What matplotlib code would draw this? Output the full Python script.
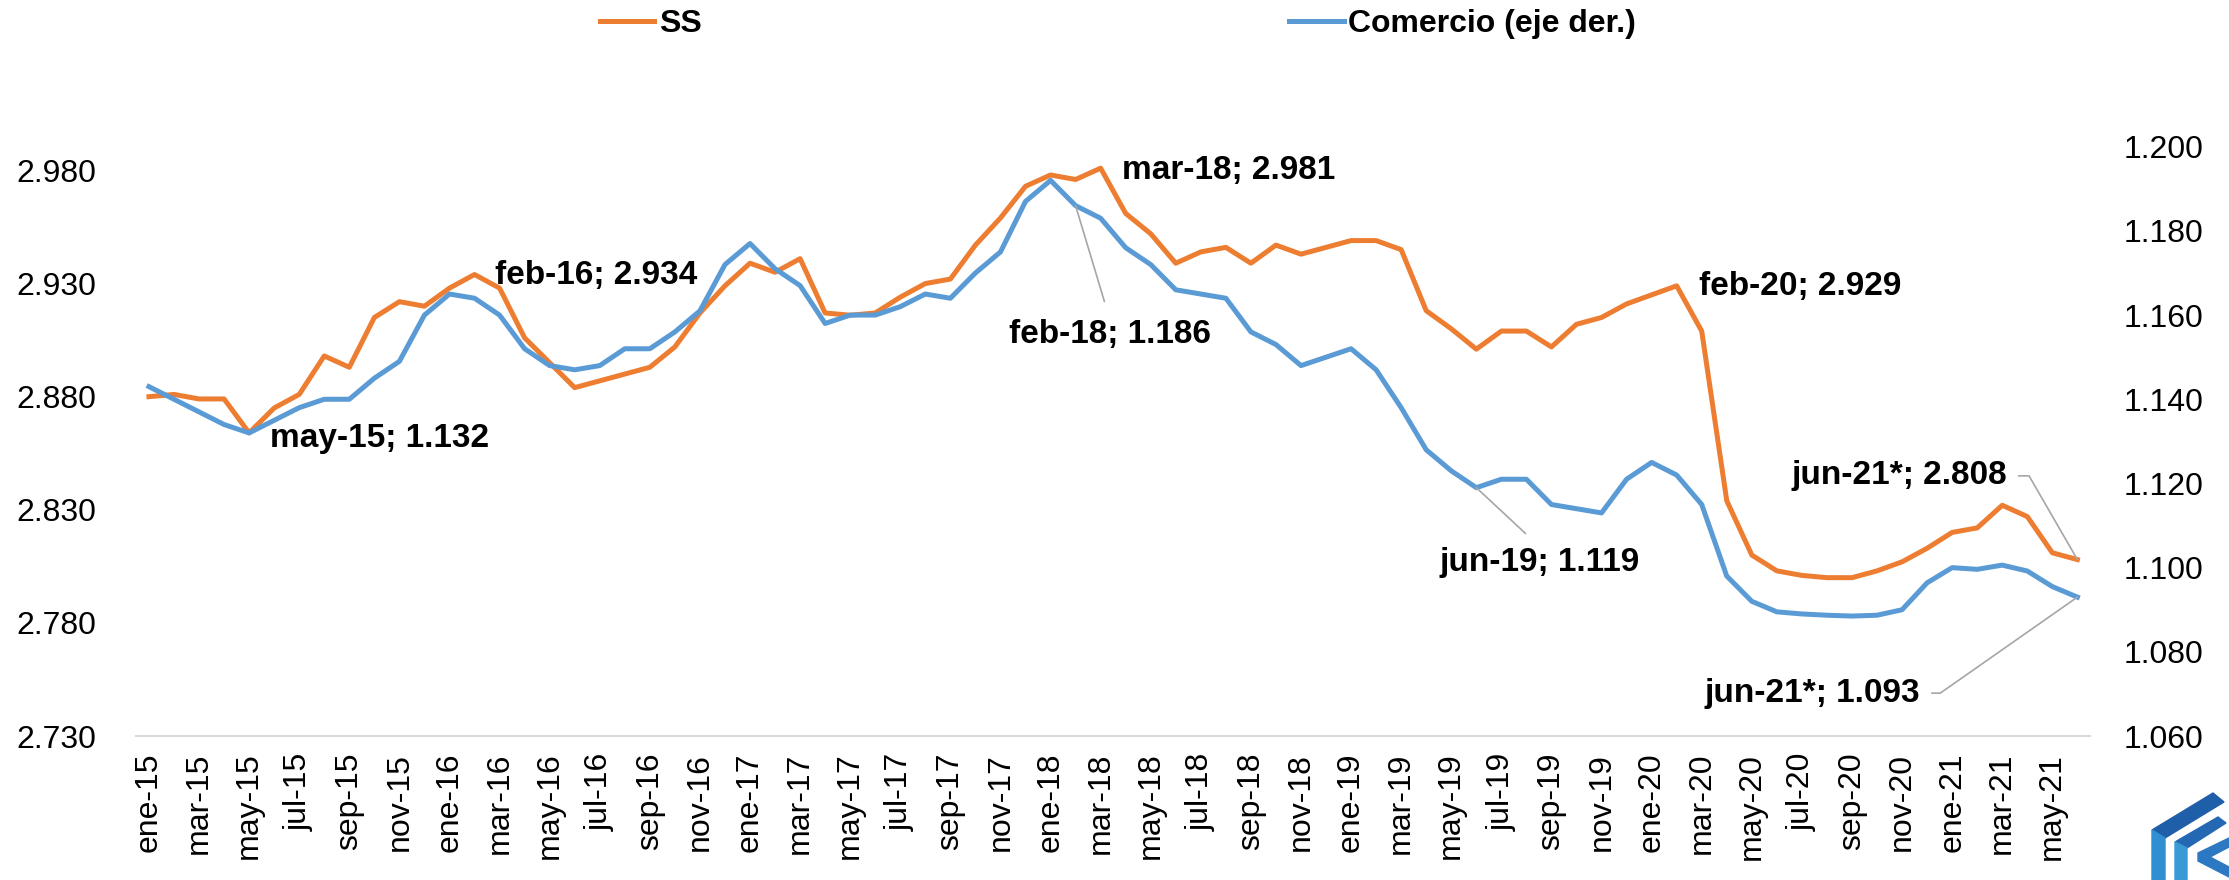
import matplotlib
matplotlib.use("Agg")
import matplotlib.pyplot as plt
from matplotlib.patches import Polygon

plt.rcParams['font.family'] = ['Liberation Sans', 'DejaVu Sans']

# datos mensuales ene-15 .. jun-21
meses = ['ene', 'feb', 'mar', 'abr', 'may', 'jun', 'jul', 'ago', 'sep', 'oct', 'nov', 'dic']
anios = ['15', '16', '17', '18', '19', '20', '21']
fechas = [m + '-' + a for a in anios for m in meses][:78]

ss = [2.880, 2.881, 2.879, 2.879, 2.864, 2.875, 2.881, 2.898, 2.893, 2.915,
      2.922, 2.920, 2.928, 2.934, 2.928, 2.906, 2.895, 2.884, 2.887, 2.890,
      2.893, 2.902, 2.917, 2.929, 2.939, 2.935, 2.941, 2.917, 2.916, 2.917,
      2.924, 2.930, 2.932, 2.947, 2.959, 2.973, 2.978, 2.976, 2.981, 2.961,
      2.952, 2.939, 2.944, 2.946, 2.939, 2.947, 2.943, 2.946, 2.949, 2.949,
      2.945, 2.918, 2.910, 2.901, 2.909, 2.909, 2.902, 2.912, 2.915, 2.921,
      2.925, 2.929, 2.909, 2.834, 2.810, 2.803, 2.801, 2.800, 2.800, 2.803,
      2.807, 2.813, 2.820, 2.822, 2.832, 2.827, 2.811, 2.808]

comercio = [1.143, 1.140, 1.137, 1.134, 1.132, 1.135, 1.138, 1.140, 1.140, 1.145,
            1.149, 1.160, 1.165, 1.164, 1.160, 1.152, 1.148, 1.147, 1.148, 1.152,
            1.152, 1.156, 1.161, 1.172, 1.177, 1.171, 1.167, 1.158, 1.160, 1.160,
            1.162, 1.165, 1.164, 1.170, 1.175, 1.187, 1.192, 1.186, 1.183, 1.176,
            1.172, 1.166, 1.165, 1.164, 1.156, 1.153, 1.148, 1.150, 1.152, 1.147,
            1.138, 1.128, 1.123, 1.119, 1.121, 1.121, 1.115, 1.114, 1.113, 1.121,
            1.125, 1.122, 1.115, 1.098, 1.092, 1.0895, 1.089, 1.0887, 1.0885, 1.0887,
            1.090, 1.0964, 1.100, 1.0996, 1.1006, 1.0992, 1.0955, 1.093]

ticks_izq = [2.730, 2.780, 2.830, 2.880, 2.930, 2.980]
ticks_der = [1.060, 1.080, 1.100, 1.120, 1.140, 1.160, 1.180, 1.200]

naranja = '#ED7D31'
azul = '#5B9BD5'
gris = '#a6a6a6'

x = list(range(len(fechas)))

fig = plt.figure(figsize=(22.29, 8.80), dpi=100)
ax = fig.add_axes([0.0612, 0.1636, 0.8764, 0.6697])
ax2 = ax.twinx()

l1, = ax.plot(x, ss, color=naranja, lw=3.6, solid_joinstyle='round', label='SS')
l2, = ax2.plot(x, comercio, color=azul, lw=3.6, solid_joinstyle='round', label='Comercio (eje der.)')

ax.set_xlim(-0.5, len(fechas) - 0.5)
ax.set_ylim(2.730, 2.9905)
ax2.set_ylim(1.060, 1.200)

ax.set_yticks(ticks_izq)
ax.set_yticklabels(['%.3f' % v for v in ticks_izq])
ax2.set_yticks(ticks_der)
ax2.set_yticklabels(['%.3f' % v for v in ticks_der])
ax.set_xticks(x[::2])
ax.set_xticklabels(fechas[::2], rotation=90)

ax.tick_params(axis='y', length=0, labelsize=23, pad=29)
ax2.tick_params(axis='y', length=0, labelsize=23, pad=24)
ax.tick_params(axis='x', length=0, labelsize=23, pad=12)

for a in (ax, ax2):
    for s in ['top', 'left', 'right', 'bottom']:
        a.spines[s].set_visible(False)
ax.spines['bottom'].set_visible(True)
ax.spines['bottom'].set_color('#d9d9d9')
ax.spines['bottom'].set_linewidth(1.5)

# etiquetas de datos
fs = 24
ax2.text(4.83, 1.1307, 'may-15; 1.132', fontsize=fs, fontweight='bold', ha='left', va='center')
ax.text(13.81, 2.9334, 'feb-16; 2.934', fontsize=fs, fontweight='bold', ha='left', va='center')
ax.text(38.86, 2.980, 'mar-18; 2.981', fontsize=fs, fontweight='bold', ha='left', va='center')
ax.text(61.88, 2.9286, 'feb-20; 2.929', fontsize=fs, fontweight='bold', ha='left', va='center')

lp = dict(arrowstyle='-', color=gris, lw=1.2, shrinkB=0)
ax2.annotate('feb-18; 1.186', xy=(37, comercio[37]), xytext=(38.36, 1.1554),
             fontsize=fs, fontweight='bold', ha='center', va='center',
             arrowprops=dict(lp, relpos=(0.5, 1), shrinkA=11))
ax2.annotate('jun-19; 1.119', xy=(53, comercio[53]), xytext=(55.53, 1.1013),
             fontsize=fs, fontweight='bold', ha='center', va='center',
             arrowprops=dict(lp, relpos=(0.5, 1), shrinkA=11))
ax.annotate('jun-21*; 2.808', xy=(77, ss[77]), xytext=(74.21, 2.8450),
            fontsize=fs, fontweight='bold', ha='right', va='center',
            arrowprops=dict(lp, relpos=(1, 0.5), shrinkA=6,
                            connectionstyle='angle,angleA=0,angleB=120,rad=0'))
ax2.annotate('jun-21*; 1.093', xy=(77, comercio[77]), xytext=(70.74, 1.0702),
             fontsize=fs, fontweight='bold', ha='right', va='center',
             arrowprops=dict(lp, relpos=(1, 0.5), shrinkA=6,
                             connectionstyle='angle,angleA=0,angleB=35,rad=0'))

fig.legend(handles=[l1, l2], loc='center', bbox_to_anchor=(0.5016, 0.9727),
           ncol=2, frameon=False, prop={'size': 23, 'weight': 'bold'},
           handlelength=1.7, handletextpad=0.15, columnspacing=18.4, borderpad=0)

# logo aproximado (esquina inferior derecha), en pixeles
W, H = 2229.0, 880.0
def px(pts):
    return [(a / W, 1 - b / H) for a, b in pts]
logo = [
    ([(2152, 830), (2213, 793), (2224, 802), (2165, 838)], '#1f5ea8'),
    ([(2152, 830), (2165, 838), (2165, 880), (2152, 880)], '#2f8fd0'),
    ([(2175, 842), (2218, 817), (2226, 823), (2187, 848)], '#2467b2'),
    ([(2175, 842), (2187, 848), (2187, 880), (2175, 880)], '#3a9ad6'),
    ([(2198, 853), (2229, 838), (2229, 847), (2210, 857), (2229, 867), (2229, 877), (2198, 861)], '#2d78c2'),
]
for pts, c in logo:
    fig.add_artist(Polygon(px(pts), closed=True, color=c, transform=fig.transFigure))

fig.savefig('out.png', dpi=100)
